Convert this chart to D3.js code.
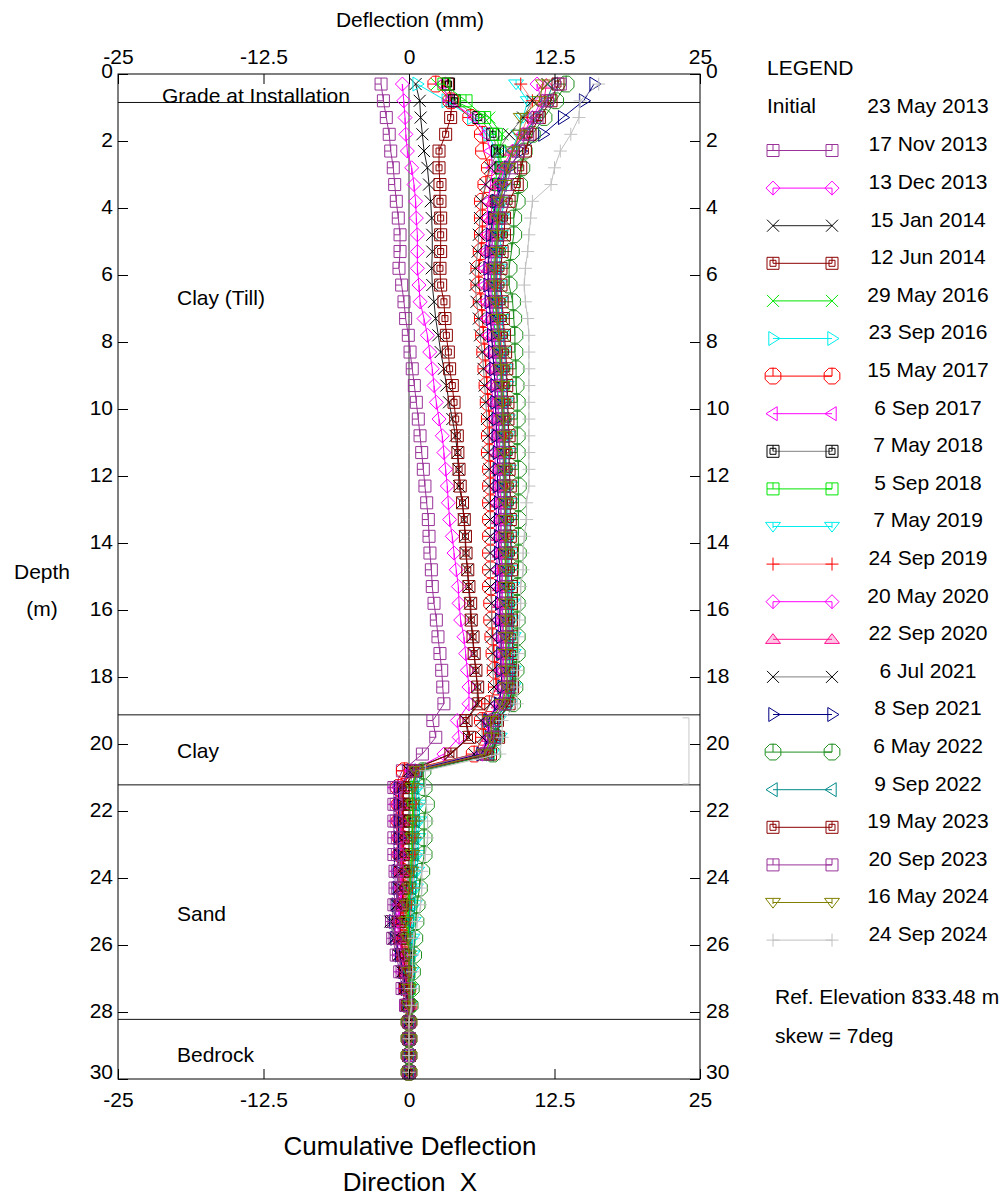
<!DOCTYPE html>
<html><head><meta charset="utf-8">
<script src="https://cdn.jsdelivr.net/npm/d3@7"></script>
<style>
body{margin:0;background:#fff}
svg text{font-family:"Liberation Sans",Arial,sans-serif;fill:#000}
</style>
</head><body>
<svg id="chart" width="1005" height="1197"></svg>
<script>
// ---------------- DATA ----------------
const depths = [0.3,0.8,1.3,1.8,2.3,2.8,3.3,3.8,4.3,4.8,5.3,5.8,6.3,6.8,7.3,7.8,8.3,8.8,9.3,9.8,
  10.3,10.8,11.3,11.8,12.3,12.8,13.3,13.8,14.3,14.8,15.3,15.8,16.3,16.8,17.3,17.8,18.3,18.8,19.3,19.8,
  20.3,20.8,21.3,21.8,22.3,22.8,23.3,23.8,24.3,24.8,25.3,25.8,26.3,26.8,27.3,27.8,28.3,28.8,29.3,29.8];

const xTickValues = [-25, -12.5, 0, 12.5, 25];
const depthTickValues = [0,2,4,6,8,10,12,14,16,18,20,22,24,26,28,30];

const layerBoundaries = [0.85, 19.13, 21.22, 28.22];
const layerNames = ["Grade at Installation", "Clay (Till)", "Clay", "Sand", "Bedrock"];
const layerLabelDepths = [0.66, 6.69, 20.21, 25.07, 29.28];
const bracketDepths = [19.22, 21.19];
const bracketX = [23.5, 24.05];

const initial23May2013 = [0,0,0,0,0,0,0,0,0,0,0,0,0,0,0,0,0,0,0,0,0,0,0,0,0,0,0,0,0,0,
  0,0,0,0,0,0,0,0,0,0,0,0,0,0,0,0,0,0,0,0,0,0,0,0,0,0,0,0,0,0];

const s17Nov2013 = [-2.4,-2.2,-1.95,-1.7,
  -1.57,-1.35,-1.23,-1.09,-0.92,-0.77,-0.77,-0.86,-0.63,-0.43,-0.29,-0.06,0.09,0.28,0.46,0.63,0.8,0.95,
  1.09,1.23,1.37,1.52,1.66,1.72,1.8,1.92,2.0,2.15,2.35,2.49,2.66,2.81,2.9,
  3.0,2.05,2.3,1.15,-0.57,
  -1.3,-1.3,-1.3,-1.3,-1.3,-1.2,-1.2,-1.3,-1.5,-1.4,-1.1,-0.8,-0.6,-0.3,0,0,0,0];
const s13Dec2013 = [-0.57,-0.45,-0.34,-0.27,
  -0.14,0.23,0.43,0.57,0.63,0.72,0.72,0.72,0.86,0.95,1.29,1.58,1.78,2.0,2.15,2.35,2.58,
  2.86,3.0,3.15,3.29,3.38,3.49,3.72,3.87,4.06,4.24,4.3,4.44,4.72,4.87,5.01,5.15,
  5.15,4.15,4.3,3.0,0.2,
  -1.2,-1.1,-1.1,-1.0,-1.0,-1.0,-0.9,-0.9,-1.2,-1.1,-0.8,-0.6,-0.4,-0.2,0,0,0,0];
const s15Jan2014 = [0.57,0.92,1.0,1.15,
  1.29,1.58,1.72,1.86,1.95,2.0,2.0,1.95,2.0,2.15,2.29,2.52,2.72,3.0,3.21,3.44,3.72,
  4.0,4.15,4.24,4.3,4.58,4.72,4.81,4.87,5.01,5.1,5.24,5.3,5.44,5.58,5.73,5.87,
  5.87,4.87,5.1,3.55,0.0,
  -0.6,-0.6,-0.7,-0.7,-0.7,-0.8,-0.9,-1.0,-1.4,-1.2,-0.9,-0.6,-0.4,-0.2,0,0,0,0];
const s12Jun2014 = [3.3,3.7,3.58,3.15,
  2.58,2.58,2.66,2.66,2.72,2.72,2.72,2.66,2.72,3.0,3.09,3.21,3.38,3.49,3.72,3.87,4.01,
  4.15,4.2,4.3,4.4,4.6,4.75,4.85,4.9,5.05,5.15,5.3,5.35,5.5,5.6,5.75,5.9,
  6.0,4.9,5.2,3.6,0.1,
  -0.5,-0.5,-0.6,-0.6,-0.6,-0.6,-0.6,-0.7,-0.9,-0.8,-0.6,-0.4,-0.3,-0.1,0,0,0,0];
const s29May2016 = [2.4,3.9,6.9,8.0,7.8,7.6,
  7.4,7.3,7.2,7.2,7.1,7.1,7.1,7.2,7.3,7.4,7.5,7.6,7.6,7.7,7.7,
  7.8,7.8,7.8,7.9,7.9,7.9,7.9,8.0,8.0,8.0,8.0,8.1,8.1,8.1,8.2,8.2,
  8.0,7.0,7.1,6.5,0.6,
  0.2,0.3,0.3,0.2,0.2,0.1,0.0,-0.1,-0.2,-0.1,0,0,0.1,0,0,0,0,0];
const s23Sep2016 = [0.7,3.2,5.4,6.8,7.5,7.8,
  7.7,7.6,7.6,7.5,7.5,7.5,7.5,7.6,7.7,7.8,7.9,8.0,8.1,8.1,8.2,
  8.3,8.3,8.4,8.4,8.5,8.5,8.5,8.6,8.6,8.6,8.7,8.7,8.7,8.8,8.8,8.8,
  8.5,7.6,7.7,7.0,0.8,
  0.6,0.7,0.7,0.6,0.6,0.5,0.4,0.3,0.2,0.2,0.2,0.1,0.1,0,0,0,0,0];
const s15May2017 = [2.3,3.6,5.3,6.3,6.4,6.9,
  6.6,6.3,6.3,6.3,6.2,6.0,6.0,6.2,6.3,6.4,6.5,6.6,6.7,6.8,6.9,
  6.9,6.9,7.0,7.0,7.0,7.0,7.0,7.0,7.0,7.0,7.1,7.1,7.2,7.3,7.4,7.5,
  6.9,6.3,6.4,5.6,-0.4,
  -0.9,-0.8,-0.8,-0.7,-0.7,-0.6,-0.5,-0.5,-0.5,-0.4,-0.3,-0.2,-0.1,0,0,0,0,0];
const s6Sep2017 = [2.8,3.5,5.6,6.6,7.0,7.2,
  7.0,6.8,6.7,6.7,6.6,6.5,6.5,6.6,6.7,6.8,6.9,7.0,7.1,7.2,7.3,
  7.3,7.4,7.4,7.4,7.5,7.5,7.5,7.5,7.6,7.6,7.6,7.7,7.7,7.8,7.9,8.0,
  7.6,6.7,6.8,6.0,0.2,
  -0.8,-0.8,-0.7,-0.7,-0.7,-0.6,-0.6,-0.7,-0.9,-0.7,-0.5,-0.3,-0.2,-0.1,0,0,0,0];
const s7May2018 = [3.4,3.9,6.0,7.2,7.6,7.9,
  7.7,7.5,7.4,7.4,7.3,7.3,7.3,7.4,7.5,7.6,7.7,7.8,7.9,7.9,8.0,
  8.0,8.1,8.1,8.1,8.2,8.2,8.2,8.2,8.3,8.3,8.3,8.3,8.4,8.4,8.4,8.5,
  8.2,7.2,7.3,6.6,0.4,
  0.0,0.1,0.1,0.0,0.0,-0.1,-0.2,-0.3,-0.5,-0.4,-0.3,-0.2,-0.1,0,0,0,0,0];
const s5Sep2018 = [3.0,4.9,6.5,7.5,7.8,8.0,
  7.8,7.6,7.5,7.5,7.4,7.4,7.4,7.5,7.6,7.7,7.8,7.9,8.0,8.0,8.1,
  8.1,8.2,8.2,8.2,8.3,8.3,8.3,8.4,8.4,8.4,8.5,8.5,8.5,8.6,8.6,8.6,
  8.3,7.4,7.5,6.8,0.7,
  0.3,0.4,0.4,0.3,0.3,0.2,0.1,0.0,-0.1,0,0,0,0,0,0,0,0,0];
const s7May2019 = [9.2,10.2,9.8,9.4,8.8,8.5,
  8.3,8.1,8.0,7.9,7.8,7.8,7.8,7.9,8.0,8.1,8.2,8.3,8.4,8.4,8.5,
  8.5,8.6,8.6,8.7,8.7,8.7,8.8,8.8,8.8,8.9,8.9,8.9,9.0,9.0,9.0,9.0,
  8.7,7.7,7.8,7.1,1.0,
  0.8,0.9,0.9,0.8,0.8,0.7,0.6,0.5,0.4,0.3,0.3,0.2,0.1,0.1,0,0,0,0];
const s24Sep2019 = [9.6,10.6,10.2,9.6,8.9,8.4,
  8.1,7.9,7.8,7.7,7.6,7.6,7.6,7.7,7.8,7.9,8.0,8.1,8.1,8.2,8.2,
  8.3,8.3,8.3,8.4,8.4,8.4,8.5,8.5,8.5,8.5,8.6,8.6,8.6,8.7,8.7,8.7,
  8.4,7.4,7.5,6.8,0.8,
  0.5,0.6,0.6,0.5,0.5,0.4,0.3,0.2,0.1,0.1,0.1,0.1,0,0,0,0,0,0];
const s20May2020 = [11.0,11.4,10.6,9.8,8.9,8.2,
  7.8,7.5,7.3,7.2,7.1,7.0,7.0,7.1,7.2,7.3,7.4,7.5,7.6,7.6,7.7,
  7.7,7.8,7.8,7.8,7.9,7.9,7.9,7.9,8.0,8.0,8.0,8.0,8.1,8.1,8.1,8.2,
  7.9,6.9,7.0,6.3,0.3,
  -0.9,-0.9,-0.9,-0.8,-0.8,-0.8,-0.7,-0.8,-1.0,-0.9,-0.6,-0.4,-0.2,-0.1,0,0,0,0];
const s22Sep2020 = [11.8,11.6,10.8,9.9,8.8,8.0,
  7.5,7.2,7.0,6.9,6.8,6.8,6.8,6.9,7.0,7.1,7.2,7.3,7.4,7.4,7.5,
  7.5,7.6,7.6,7.6,7.7,7.7,7.7,7.8,7.8,7.8,7.8,7.9,7.9,8.0,8.0,8.0,
  7.7,6.8,6.9,6.2,0.2,
  -0.7,-0.7,-0.6,-0.6,-0.6,-0.6,-0.5,-0.6,-0.8,-0.7,-0.5,-0.3,-0.2,0,0,0,0,0];
const s6Jul2021 = [11.9,10.6,9.8,8.6,7.6,7.0,
  6.6,6.2,6.1,6.0,5.9,5.7,5.7,5.8,6.0,6.1,6.3,6.4,6.5,6.6,6.7,
  6.8,6.8,6.9,6.9,6.9,7.0,7.0,7.0,7.0,7.0,7.1,7.1,7.1,7.2,7.2,7.3,
  7.0,6.2,6.3,5.6,0.0,
  -0.7,-0.7,-0.8,-0.8,-0.8,-0.8,-0.9,-1.1,-1.6,-1.3,-0.9,-0.6,-0.4,-0.2,0,0,0,0];
const s8Sep2021 = [15.9,15.0,13.2,11.5,9.6,8.6,
  8.0,7.5,7.2,7.0,6.9,6.8,6.8,6.9,7.0,7.1,7.2,7.3,7.4,7.4,7.5,
  7.5,7.6,7.6,7.6,7.7,7.7,7.7,7.7,7.8,7.8,7.8,7.8,7.9,7.9,7.9,8.0,
  7.7,6.8,6.9,6.2,0.2,
  -0.9,-0.9,-0.9,-0.9,-0.9,-1.0,-1.0,-1.1,-1.3,-1.2,-0.8,-0.5,-0.3,-0.1,0,0,0,0];
const s6May2022 = [13.5,12.6,11.6,10.6,9.9,9.7,
  9.5,9.3,9.0,9.0,8.8,8.6,8.6,8.9,9.0,9.1,9.1,9.2,9.2,9.3,9.3,
  9.3,9.3,9.4,9.4,9.4,9.4,9.4,9.4,9.4,9.3,9.3,9.3,9.3,9.3,9.2,9.1,
  8.9,7.4,7.5,7.2,1.2,
  1.3,1.5,1.3,1.3,1.3,1.1,0.9,0.7,0.6,0.5,0.4,0.3,0.2,0.1,0,0,0,0];
const s9Sep2022 = [12.4,11.8,10.9,10.0,8.9,8.3,
  8.0,7.8,7.7,7.7,7.6,7.5,7.5,7.6,7.7,7.8,7.9,8.0,8.1,8.1,8.2,
  8.2,8.3,8.3,8.3,8.4,8.4,8.4,8.5,8.5,8.5,8.5,8.6,8.6,8.6,8.7,8.7,
  8.4,7.4,7.5,6.9,0.7,
  0.4,0.5,0.5,0.4,0.4,0.3,0.2,0.1,0.0,0.1,0.1,0.1,0,0,0,0,0,0];
const s19May2023 = [12.8,12.2,11.2,10.4,10.0,9.6,
  9.3,8.6,8.2,8.2,8.0,7.9,7.9,8.0,8.1,8.2,8.3,8.4,8.4,8.5,8.5,
  8.6,8.6,8.6,8.7,8.7,8.7,8.7,8.8,8.8,8.8,8.8,8.8,8.9,8.9,8.9,8.9,
  8.6,7.6,7.7,7.0,0.6,
  -0.5,-0.5,-0.5,-0.5,-0.5,-0.5,-0.5,-0.6,-0.8,-0.7,-0.5,-0.3,-0.2,-0.1,0,0,0,0];
const s20Sep2023 = [13.0,11.9,11.0,10.2,9.4,8.8,
  8.4,8.0,7.8,7.6,7.5,7.4,7.4,7.5,7.6,7.7,7.8,7.9,7.9,8.0,8.0,
  8.1,8.1,8.1,8.2,8.2,8.2,8.2,8.3,8.3,8.3,8.3,8.4,8.4,8.4,8.4,8.5,
  8.2,7.2,7.3,6.6,0.4,
  -1.1,-1.1,-1.1,-1.0,-1.0,-1.0,-1.0,-1.1,-1.3,-1.2,-0.9,-0.6,-0.4,-0.2,0,0,0,0];
const s16May2024 = [11.5,11.2,9.6,9.5,8.9,8.5,
  8.2,7.8,7.6,7.6,7.5,7.3,7.3,7.4,7.6,7.7,7.8,7.9,8.0,8.0,8.1,
  8.2,8.2,8.2,8.3,8.3,8.3,8.3,8.3,8.3,8.3,8.3,8.3,8.3,8.3,8.3,8.4,
  8.0,7.0,7.1,6.5,0.6,
  0.3,0.3,0.3,0.3,0.3,0.2,0.0,-0.2,-0.3,-0.1,0,0,0,0,0,0,0,0];
const s24Sep2024 = [16.3,14.7,14.6,13.9,13.0,12.5,
  12.2,10.6,10.45,10.3,10.2,10.0,9.9,10.0,10.2,10.3,10.3,10.3,10.3,10.3,10.3,
  10.3,10.3,10.3,10.3,10.1,10.1,9.9,9.8,9.8,9.6,9.6,9.5,9.4,9.4,9.3,9.3,
  9.3,8.0,8.0,7.8,1.4,
  1.4,1.5,1.6,1.6,1.4,1.1,1.1,1.0,0.7,0.4,0.3,0.3,0.2,0.2,0,0,0,0];

const legendNames = ["17 Nov 2013","13 Dec 2013","15 Jan 2014","12 Jun 2014","29 May 2016","23 Sep 2016",
  "15 May 2017","6 Sep 2017","7 May 2018","5 Sep 2018","7 May 2019","24 Sep 2019","20 May 2020",
  "22 Sep 2020","6 Jul 2021","8 Sep 2021","6 May 2022","9 Sep 2022","19 May 2023","20 Sep 2023",
  "16 May 2024","24 Sep 2024"];
const seriesValues = [s17Nov2013,s13Dec2013,s15Jan2014,s12Jun2014,s29May2016,s23Sep2016,s15May2017,
  s6Sep2017,s7May2018,s5Sep2018,s7May2019,s24Sep2019,s20May2020,s22Sep2020,s6Jul2021,s8Sep2021,
  s6May2022,s9Sep2022,s19May2023,s20Sep2023,s16May2024,s24Sep2024];

// ---------------- STYLES ----------------
const seriesStyles = [
  {color:"#993399", line:"#993399", marker:"squareTick"},
  {color:"#ff00ff", line:"#ff00ff", marker:"diamondTick"},
  {color:"#000000", line:"#222222", marker:"x"},
  {color:"#8b0000", line:"#8b0000", marker:"squareInner"},
  {color:"#00e600", line:"#00e600", marker:"x"},
  {color:"#00eeee", line:"#00eeee", marker:"triRight"},
  {color:"#ff0000", line:"#ff0000", marker:"octTick"},
  {color:"#ff00ff", line:"#ff00ff", marker:"triLeft"},
  {color:"#000000", line:"#808080", marker:"squareInner"},
  {color:"#00e600", line:"#00e600", marker:"squareTick"},
  {color:"#00eeee", line:"#00eeee", marker:"triDownTick"},
  {color:"#ff0000", line:"#ff7a7a", marker:"plus"},
  {color:"#ff00ff", line:"#ff00ff", marker:"diamondTick"},
  {color:"#ff1493", line:"#ff1493", marker:"triUp", fill:"rgba(255,20,147,0.25)"},
  {color:"#000000", line:"#808080", marker:"x"},
  {color:"#000080", line:"#000080", marker:"triRight"},
  {color:"#1f8f1f", line:"#1f8f1f", marker:"octTick"},
  {color:"#008b8b", line:"#008b8b", marker:"triLeft"},
  {color:"#8b0000", line:"#8b0000", marker:"squareInner"},
  {color:"#993399", line:"#993399", marker:"squareTick"},
  {color:"#808000", line:"#808000", marker:"triDownTick"},
  {color:"#c0c0c0", line:"#c0c0c0", marker:"plus"}
];

function markerD(type){
  switch(type){
    case "squareTick": { const s=6; return `M${-s},${-s}H${s}V${s}H${-s}Z M0,${-s}V0H${-s}`; }
    case "squareInner": { const s=6, t=3; return `M${-s},${-s}H${s}V${s}H${-s}Z M${-t},${-t}H${t}V${t}H${-t}Z M0,${-s}V0`; }
    case "diamondTick": { const s=7; return `M0,${-s}L${s},0L0,${s}L${-s},0Z M0,0V${s}`; }
    case "x": { const s=6; return `M${-s},${-s}L${s},${s}M${-s},${s}L${s},${-s}`; }
    case "triRight": { const s=7; return `M${-s*0.6},${-s}L${s},0L${-s*0.6},${s}Z`; }
    case "triLeft": { const s=7; return `M${s*0.6},${-s}L${-s},0L${s*0.6},${s}Z`; }
    case "triDownTick": { const s=7.5; return `M${-s},${-s*0.55}H${s}L0,${s*0.75}Z M0,${-s*0.55}V${s*0.2}`; }
    case "triUp": { const s=7.5; return `M${-s},${s*0.55}H${s}L0,${-s*0.75}Z`; }
    case "plus": { const s=6.5; return `M${-s},0H${s}M0,${-s}V${s}`; }
    case "octTick": {
      const r=8.5; let d="";
      for(let i=0;i<8;i++){ const a=Math.PI/8+i*Math.PI/4; d+=(i?"L":"M")+(r*Math.cos(a)).toFixed(2)+","+(r*Math.sin(a)).toFixed(2); }
      return d+`Z M0,${-r}V0H${-r*0.9}`;
    }
  }
  return "";
}

// ---------------- CHART ----------------
const svg = d3.select("#chart");
const x = d3.scaleLinear().domain([-25,25]).range([118,700]);
const y = d3.scaleLinear().domain([0,30]).range([74,1079]);
const FONT = '"Liberation Sans", Arial, sans-serif';

// layer boundary lines
svg.append("g").selectAll("line").data(layerBoundaries).join("line")
  .attr("x1", x(-25)).attr("x2", x(25))
  .attr("y1", d=>y(d)).attr("y2", d=>y(d))
  .attr("stroke","#111").attr("stroke-width",1);

// layer labels
svg.append("g").selectAll("text").data(layerNames).join("text")
  .attr("x", (d,i)=> i===0 ? 162 : 177)
  .attr("y", (d,i)=> y(layerLabelDepths[i]))
  .attr("dy","0.35em").attr("font-size",21).text(d=>d);

// bracket annotation
svg.append("path")
  .attr("d", `M${x(bracketX[0])},${y(bracketDepths[0])}H${x(bracketX[1])}V${y(bracketDepths[1])}H${x(bracketX[0])}`)
  .attr("fill","none").attr("stroke","#c8c8c8").attr("stroke-width",1);

// series
const lineGen = d3.line().x(d=>x(d.v)).y(d=>y(d.depth));
const plot = svg.append("g");
plot.append("path")
  .attr("d", lineGen(depths.map((dp,i)=>({depth:dp, v:initial23May2013[i]}))))
  .attr("fill","none").attr("stroke","#333").attr("stroke-width",1);

seriesValues.forEach((vals, si) => {
  const st = seriesStyles[si];
  const pts = depths.map((dp,i)=>({depth:dp, v:vals[i]}));
  const g = plot.append("g");
  g.append("path").attr("d", lineGen(pts)).attr("fill","none")
    .attr("stroke", st.line).attr("stroke-width",1);
  g.selectAll("path.m").data(pts).join("path").attr("class","m")
    .attr("transform", d=>`translate(${x(d.v)},${y(d.depth)})`)
    .attr("d", markerD(st.marker))
    .attr("fill", st.fill || "none")
    .attr("stroke", st.color).attr("stroke-width",1);
});

// frame
svg.append("rect").attr("x",x(-25)).attr("y",y(0))
  .attr("width",x(25)-x(-25)).attr("height",y(30)-y(0))
  .attr("fill","none").attr("stroke","#000").attr("stroke-width",1);

// axes
function styleAxis(g){
  g.select(".domain").remove();
  g.attr("font-size",21).attr("font-family",FONT);
  g.selectAll(".tick line").attr("stroke","#000");
  g.selectAll(".tick text").attr("fill","#000");
}
svg.append("g").attr("transform",`translate(0,${y(0)})`)
  .call(d3.axisTop(x).tickValues(xTickValues).tickSize(-10).tickPadding(10).tickFormat(d=>String(d)))
  .call(styleAxis);
svg.append("g").attr("transform",`translate(0,${y(30)})`)
  .call(d3.axisBottom(x).tickValues(xTickValues).tickSize(-10).tickPadding(13).tickFormat(d=>String(d)))
  .call(styleAxis);
const leftAx = svg.append("g").attr("transform",`translate(${x(-25)},0)`)
  .call(d3.axisLeft(y).tickValues(depthTickValues).tickSize(-10).tickPadding(5).tickFormat(d=>String(d)))
  .call(styleAxis);
const rightAx = svg.append("g").attr("transform",`translate(${x(25)},0)`)
  .call(d3.axisRight(y).tickValues(depthTickValues).tickSize(-10).tickPadding(6).tickFormat(d=>String(d)))
  .call(styleAxis);
[leftAx, rightAx].forEach(ax => {
  ax.selectAll(".tick text").attr("transform", d => `translate(0,${d===0?-3:(d===30?-7:-1)})`);
});

// axis titles
svg.append("text").attr("x",410).attr("y",20).attr("dy","0.35em").attr("text-anchor","middle")
  .attr("font-size",21).text("Deflection (mm)");
svg.append("text").attr("x",410).attr("y",1146).attr("dy","0.35em").attr("text-anchor","middle")
  .attr("font-size",26).text("Cumulative Deflection");
svg.append("text").attr("x",410).attr("y",1182).attr("dy","0.35em").attr("text-anchor","middle")
  .attr("font-size",26).attr("xml:space","preserve").style("white-space","pre").text("Direction  X");
svg.append("text").attr("x",42).attr("y",572).attr("dy","0.35em").attr("text-anchor","middle")
  .attr("font-size",21).text("Depth");
svg.append("text").attr("x",42).attr("y",609).attr("dy","0.35em").attr("text-anchor","middle")
  .attr("font-size",21).text("(m)");

// legend
const lg = svg.append("g");
lg.append("text").attr("x",767).attr("y",68).attr("dy","0.35em").attr("font-size",21).text("LEGEND");
lg.append("text").attr("x",767).attr("y",106).attr("dy","0.35em").attr("font-size",21).text("Initial");
lg.append("text").attr("x",928).attr("y",106).attr("dy","0.35em").attr("text-anchor","middle").attr("font-size",21).text("23 May 2013");
legendNames.forEach((name, i) => {
  const ty = 144 + 37.6*i;
  const sy = ty + 6.5;
  const st = seriesStyles[i];
  lg.append("text").attr("x",928).attr("y",ty).attr("dy","0.35em").attr("text-anchor","middle")
    .attr("font-size",21).text(name);
  lg.append("line").attr("x1",773).attr("x2",832).attr("y1",sy).attr("y2",sy)
    .attr("stroke",st.line).attr("stroke-width",1);
  [773,832].forEach(mx => {
    lg.append("path").attr("transform",`translate(${mx},${sy})`).attr("d",markerD(st.marker))
      .attr("fill", st.fill || "none").attr("stroke",st.color).attr("stroke-width",1);
  });
});
lg.append("text").attr("x",775).attr("y",997).attr("dy","0.35em").attr("font-size",21).text("Ref. Elevation 833.48 m");
lg.append("text").attr("x",775).attr("y",1036).attr("dy","0.35em").attr("font-size",21).text("skew = 7deg");
</script>
</body></html>
